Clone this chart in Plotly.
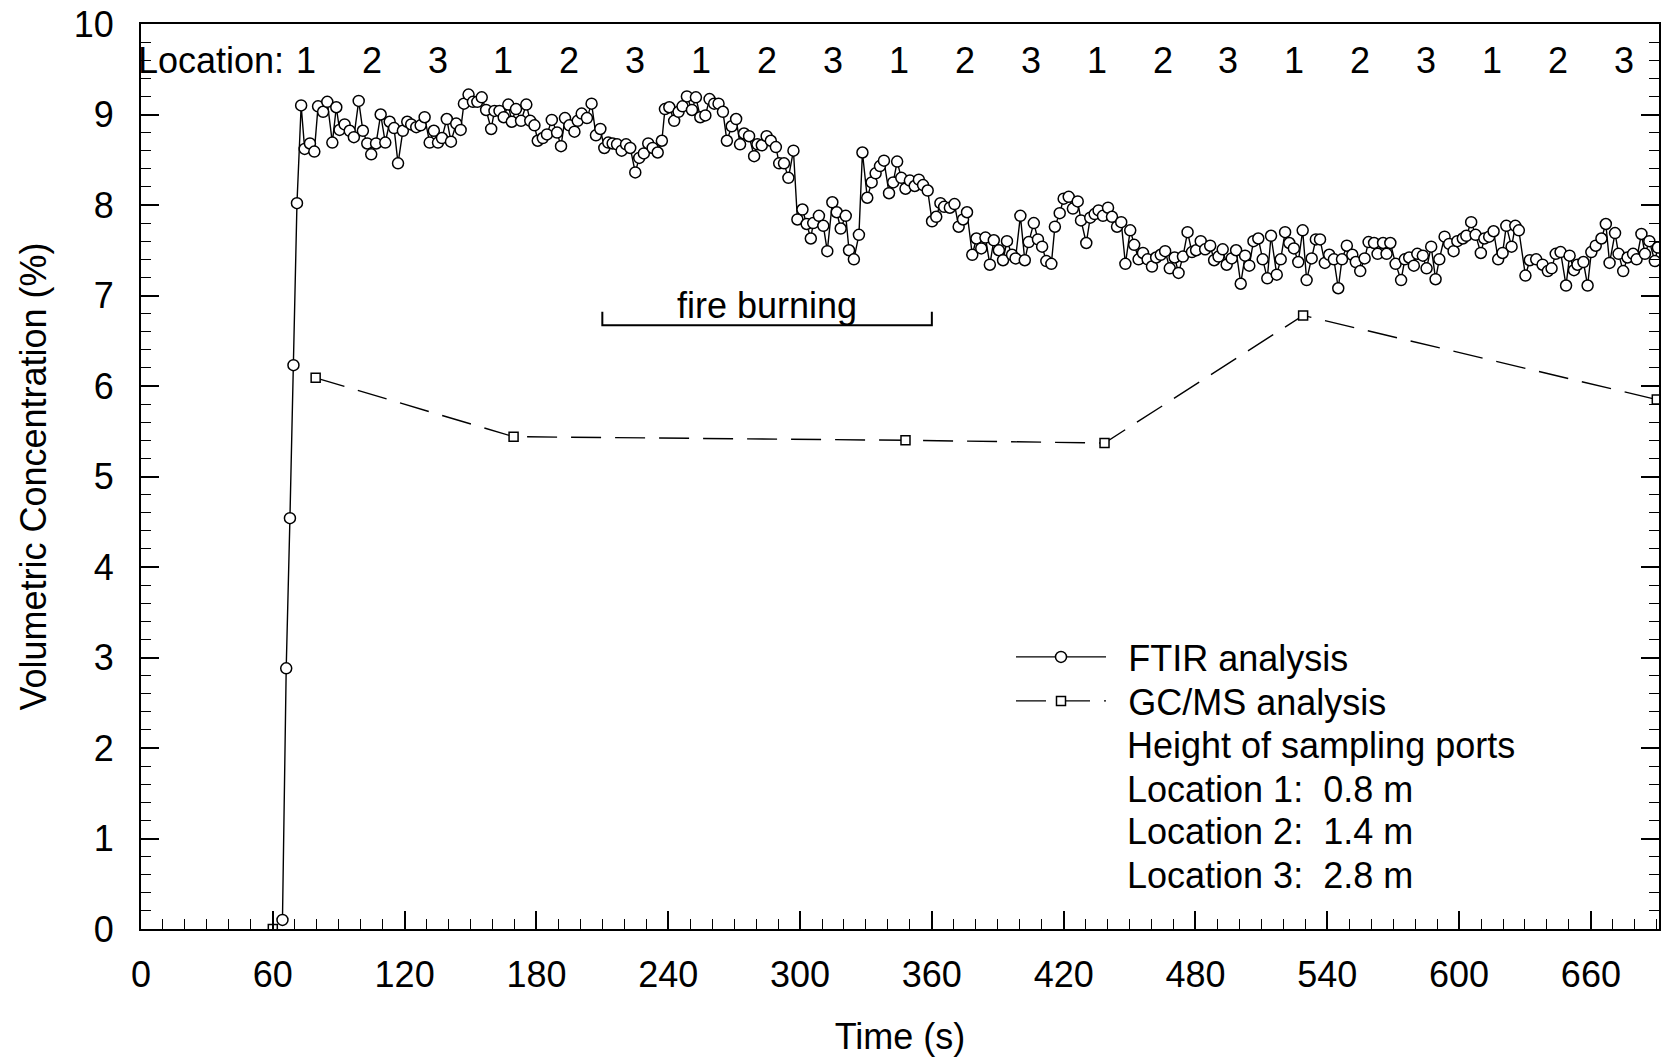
import plotly.graph_objects as go

# ---------------- data ----------------
ftir_t = [64.4, 66.1, 67.8, 69.4, 71.0, 72.9, 74.5, 76.9, 78.9, 80.6, 82.9, 84.8, 87.1, 88.9, 90.4,
          92.7, 95.0, 96.9, 99.1, 101.0, 103.0, 104.8, 107.0, 109.1, 111.2, 113.2, 115.2, 117.0,
          119.2, 121.2, 123.0, 125.3, 127.3, 129.1, 131.4, 133.3, 135.2, 137.0, 139.2, 141.1,
          143.5, 145.5, 147.0, 149.1, 151.1, 153.1, 155.1, 157.1, 159.4, 160.9, 163.2, 165.1,
          167.2, 168.8, 170.7, 173.0, 175.4, 177.2, 179.1, 180.6, 182.9, 184.8, 187.0, 189.4,
          191.2, 193.0, 195.0, 197.3, 198.8, 200.6, 203.0, 205.1, 207.1, 209.1, 210.9, 212.7,
          214.7, 216.7, 218.8, 220.8, 222.7, 225.0, 226.8, 228.9, 230.9, 232.9, 235.2, 237.1,
          238.5, 240.5, 242.7, 244.7, 246.5, 248.5, 250.8, 252.6, 254.6, 256.9, 258.8, 260.9,
          262.9, 264.9, 266.7, 268.9, 270.9, 272.7, 274.5, 276.8, 279.1, 280.6, 282.6, 284.8,
          286.7, 289.0, 290.5, 292.7, 294.7, 297.0, 298.8, 301.1, 303.0, 304.9, 306.0, 308.6,
          310.6, 312.4, 314.7, 316.7, 318.5, 320.8, 322.3, 324.5, 326.8, 328.4, 330.6, 332.6,
          334.4, 336.4, 338.2, 340.5, 342.4, 344.2, 346.1, 348.0, 350.0, 352.2, 354.1, 356.0,
          358.1, 360.1, 362.0, 363.9, 365.6, 368.2, 370.3, 372.2, 374.2, 376.0, 378.4, 380.3,
          382.5, 384.4, 386.4, 388.2, 390.5, 392.4, 394.2, 396.5, 398.1, 400.3, 402.3, 404.1,
          406.4, 408.3, 410.2, 412.1, 414.4, 416.0, 418.2, 420.0, 422.3, 424.2, 426.4, 427.9,
          430.3, 432.1, 434.1, 435.9, 437.9, 440.2, 442.0, 444.3, 446.2, 448.1, 450.3, 452.1,
          454.1, 456.1, 458.2, 460.2, 462.1, 464.2, 466.2, 468.3, 470.5, 472.3, 474.3, 476.4,
          478.4, 480.3, 482.4, 484.4, 486.7, 488.5, 490.5, 492.4, 494.2, 496.5, 498.5, 500.6,
          502.6, 504.5, 506.4, 508.6, 510.6, 512.7, 514.4, 517.0, 518.8, 520.8, 522.7, 524.8,
          526.8, 528.8, 530.6, 532.9, 534.8, 536.7, 538.9, 540.9, 543.0, 545.0, 546.7, 548.9,
          551.4, 553.0, 555.0, 557.0, 558.8, 561.3, 562.9, 565.4, 567.0, 568.7, 571.1, 573.6,
          575.3, 577.3, 579.4, 581.0, 583.5, 585.2, 587.3, 589.3, 591.0, 593.4, 595.5, 597.5,
          599.2, 601.7, 603.3, 605.5, 607.5, 609.9, 611.5, 613.7, 615.7, 617.8, 619.8, 621.5,
          623.9, 625.6, 627.2, 630.2, 632.2, 635.1, 638.0, 640.4, 642.1, 644.0, 646.2, 648.7,
          650.3, 652.3, 653.9, 656.6, 658.5, 660.2, 662.2, 664.8, 666.8, 668.5, 671.0, 672.6,
          674.7, 676.7, 679.2, 680.8, 683.0, 684.6, 686.6, 689.1, 690.5]
ftir_v = [0.10, 2.88, 4.54, 6.23, 8.02, 9.10, 8.62, 8.68, 8.59, 9.09, 9.03, 9.14, 8.69, 9.08, 8.83,
          8.89, 8.82, 8.75, 9.15, 8.82, 8.68, 8.56, 8.68, 9.00, 8.69, 8.92, 8.85, 8.46,
          8.82, 8.92, 8.89, 8.86, 8.88, 8.97, 8.69, 8.82, 8.69, 8.74, 8.95, 8.70,
          8.90, 8.83, 9.12, 9.22, 9.14, 9.14, 9.19, 9.05, 8.84, 9.04, 9.04, 8.97,
          9.11, 8.92, 9.06, 8.93, 9.11, 8.93, 8.88, 8.71, 8.74, 8.78, 8.94, 8.80,
          8.65, 8.96, 8.88, 8.81, 8.93, 9.01, 8.96, 9.12, 8.77, 8.84, 8.63, 8.69,
          8.68, 8.67, 8.60, 8.67, 8.63, 8.36, 8.52, 8.57, 8.68, 8.63, 8.58, 8.71,
          9.06, 9.08, 8.93, 9.03, 9.09, 9.20, 9.05, 9.19, 8.97, 8.99, 9.17, 9.12,
          9.12, 9.03, 8.71, 8.87, 8.95, 8.67, 8.79, 8.76, 8.54, 8.67, 8.66, 8.76,
          8.71, 8.64, 8.46, 8.46, 8.30, 8.60, 7.84, 7.95, 7.79, 7.63, 7.80, 7.88,
          7.77, 7.49, 8.03, 7.92, 7.74, 7.88, 7.50, 7.40, 7.67, 8.58, 8.08, 8.25,
          8.35, 8.43, 8.49, 8.13, 8.25, 8.48, 8.30, 8.18, 8.27, 8.21, 8.28, 8.22,
          8.16, 7.82, 7.87, 8.02, 7.98, 7.97, 8.01, 7.76, 7.84, 7.92, 7.45, 7.63,
          7.52, 7.64, 7.34, 7.61, 7.50, 7.39, 7.60, 7.45, 7.41, 7.88, 7.39, 7.59,
          7.80, 7.62, 7.54, 7.38, 7.35, 7.76, 7.91, 8.07, 8.09, 7.96, 8.04, 7.83,
          7.58, 7.86, 7.90, 7.94, 7.88, 7.97, 7.87, 7.76, 7.81, 7.35, 7.72, 7.56,
          7.40, 7.47, 7.40, 7.32, 7.42, 7.45, 7.49, 7.30, 7.42, 7.25, 7.43, 7.70,
          7.48, 7.50, 7.60, 7.51, 7.55, 7.39, 7.43, 7.51, 7.34, 7.41, 7.50, 7.13,
          7.44, 7.33, 7.60, 7.63, 7.40, 7.19, 7.66, 7.23, 7.40, 7.70, 7.58, 7.52,
          7.37, 7.72, 7.17, 7.41, 7.62, 7.62, 7.36, 7.45, 7.40, 7.08, 7.40, 7.55,
          7.45, 7.37, 7.27, 7.41, 7.59, 7.58, 7.46, 7.58, 7.46, 7.58, 7.35, 7.17,
          7.40, 7.42, 7.33, 7.46, 7.44, 7.30, 7.54, 7.18, 7.40, 7.65, 7.57, 7.49,
          7.60, 7.63, 7.66, 7.81, 7.67, 7.47, 7.63, 7.65, 7.71, 7.40, 7.47, 7.77,
          7.54, 7.77, 7.72, 7.22, 7.39, 7.40, 7.34, 7.27, 7.30, 7.46, 7.48, 7.11,
          7.44, 7.28, 7.34, 7.37, 7.11, 7.48, 7.55, 7.63, 7.79, 7.36, 7.69, 7.46,
          7.27, 7.42, 7.46, 7.40, 7.68, 7.46, 7.60, 7.38, 7.53]

gcms_t = [60, 79.5, 169.6, 348, 438.6, 529, 690]
gcms_v = [0.0, 6.09, 5.44, 5.40, 5.37, 6.78, 5.85]

x_ticks = [0, 60, 120, 180, 240, 300, 360, 420, 480, 540, 600, 660]
y_ticks = [0, 1, 2, 3, 4, 5, 6, 7, 8, 9, 10]
switch_times = [60, 90, 120, 150, 180, 210, 240, 270, 300, 330, 360, 390, 420, 450,
                480, 510, 540, 570, 600, 630, 660, 690]
loc_labels = ["1", "2", "3"] * 7
loc_centers = [75 + 30 * k for k in range(21)]
fire_start, fire_end = 210, 360
notes = ["Height of sampling ports", "Location 1:  0.8 m", "Location 2:  1.4 m", "Location 3:  2.8 m"]

FONT = "Liberation Sans, Arial, Helvetica, sans-serif"
FS = 36

# pixel helpers for paper placement
L, R, T, B = 141, 1659, 24, 929
def px(xp):
    return (xp - L) / (R - L)
def py(yp):
    return (B - yp) / (B - T)

fig = go.Figure()
NB = "\u00a0\u2009"

fig.add_trace(go.Scatter(
    x=ftir_t, y=ftir_v, mode="lines+markers", name=NB + "FTIR analysis", legend="legend",
    line=dict(color="black", width=1.4),
    marker=dict(symbol="circle", size=11, color="white", line=dict(color="black", width=1.5)),
))
fig.add_trace(go.Scatter(
    x=gcms_t[1:], y=gcms_v[1:], mode="lines+markers", name=NB + "GC/MS analysis", legend="legend2",
    line=dict(color="black", width=1.4, dash="30px,14px"),
    marker=dict(symbol="square", size=9, color="white", line=dict(color="black", width=1.5)),
))
fig.add_trace(go.Scatter(
    x=gcms_t[:1], y=gcms_v[:1], mode="markers", showlegend=False,
    marker=dict(symbol="square", size=9, color="white", line=dict(color="black", width=1.5)),
))

tf = dict(size=FS, color="black", family=FONT)
annotations = []
for lab, xc in zip(loc_labels, loc_centers):
    annotations.append(dict(x=xc, y=9.6, xref="x", yref="y", text=lab, showarrow=False,
                            font=tf, xanchor="center", yanchor="middle"))
annotations.append(dict(x=66, y=9.6, xref="x", yref="y", text="Location:", showarrow=False,
                        font=tf, xanchor="right", yanchor="middle"))
annotations.append(dict(x=(fire_start + fire_end) / 2, y=6.89, xref="x", yref="y",
                        text="fire burning", showarrow=False, font=tf,
                        xanchor="center", yanchor="middle"))
note_y = [745, 789, 831, 875]
for txt, yy in zip(notes, note_y):
    annotations.append(dict(x=px(1125), y=py(yy), xref="paper", yref="paper", text=txt,
                            showarrow=False, font=tf, xanchor="left", yanchor="middle"))

shapes = [dict(type="path", xref="x", yref="y",
               path=f"M{fire_start},6.82 L{fire_start},6.67 L{fire_end},6.67 L{fire_end},6.82",
               line=dict(color="black", width=2))]

leg_common = dict(xanchor="left", yanchor="middle", bgcolor="rgba(0,0,0,0)", itemwidth=90,
                  borderwidth=0, font=tf)

fig.update_layout(
    template="none",
    width=1669, height=1062,
    margin=dict(l=L, r=1669 - R, t=T, b=1062 - B, autoexpand=False),
    paper_bgcolor="white", plot_bgcolor="white",
    font=dict(family=FONT, size=FS, color="black"),
    showlegend=True,
    legend=dict(x=px(1011), y=py(657), **leg_common),
    legend2=dict(x=px(1011), y=py(701), **leg_common),
    annotations=annotations,
    shapes=shapes,
    xaxis=dict(range=[0, 691], tickvals=x_ticks, ticks="inside", ticklen=18, tickwidth=1.5,
               tickcolor="black", showline=True, linewidth=2, linecolor="black", mirror=True,
               showgrid=False, zeroline=False, ticklabelstandoff=13, automargin=False,
               tickfont=tf,
               minor=dict(dtick=10, tick0=0, ticks="inside", ticklen=10, tickwidth=1.2,
                          tickcolor="black", showgrid=False),
               title=dict(text="Time (s)", standoff=30, font=tf)),
    xaxis2=dict(range=[0, 691], overlaying="x", side="top", anchor="y", tickvals=switch_times,
                ticks="inside", ticklen=20, tickwidth=1.5, tickcolor="black", showticklabels=False,
                showline=False, showgrid=False, zeroline=False, automargin=False,
                minor=dict(dtick=10, tick0=0, ticks="inside", ticklen=10, tickwidth=1.2,
                           tickcolor="black", showgrid=False)),
    yaxis=dict(range=[0, 10], tickvals=y_ticks, ticks="inside", ticklen=18, tickwidth=1.5,
               tickcolor="black", showline=True, linewidth=2, linecolor="black", mirror="ticks",
               showgrid=False, zeroline=False, ticklabelstandoff=18, automargin=False,
               tickfont=tf,
               minor=dict(dtick=0.2, tick0=0, ticks="inside", ticklen=10, tickwidth=1.2,
                          tickcolor="black", showgrid=False),
               title=dict(text="Volumetric Concentration (%)", standoff=16, font=tf)),
)

fig.write_html("out.html")
